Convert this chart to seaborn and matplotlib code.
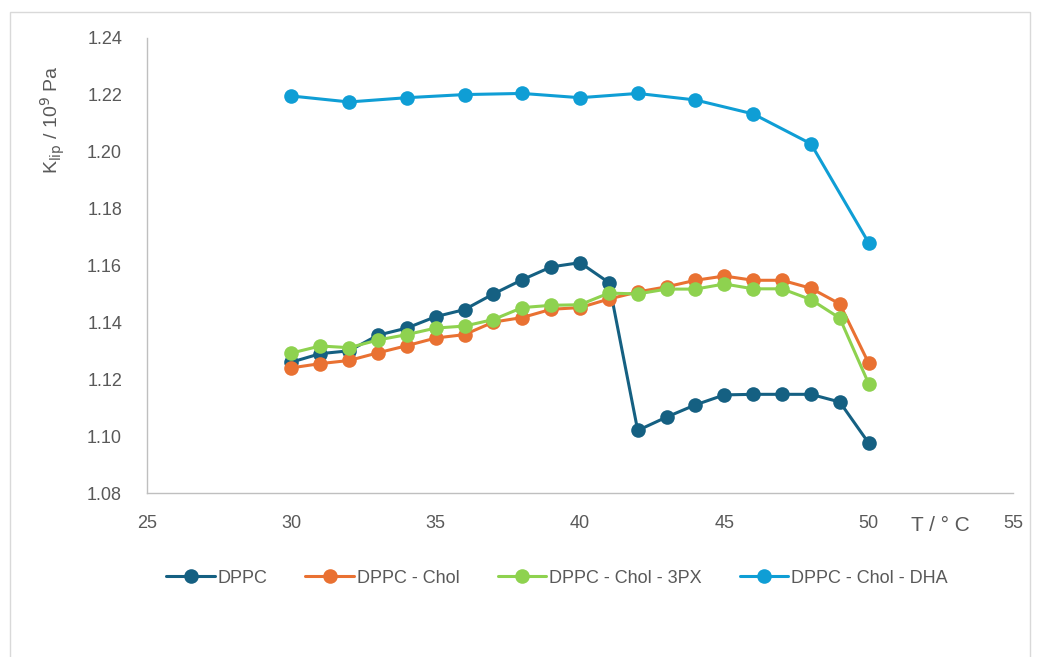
import numpy as np
import pandas as pd
import seaborn as sns
import matplotlib.pyplot as plt
from matplotlib.patches import Rectangle

# temperatures (°C)
t_full = list(range(30, 51))
t_dha = [30, 32, 34, 36, 38, 40, 42, 44, 46, 48, 50]

# K_lip / 10^9 Pa
k_dppc = [1.126, 1.129, 1.130, 1.1355, 1.138, 1.142, 1.1445, 1.150, 1.155, 1.1595, 1.161, 1.154,
          1.102, 1.1067, 1.111, 1.1145, 1.1147, 1.1147, 1.1147, 1.112, 1.0976]
k_chol = [1.124, 1.1255, 1.1266, 1.1293, 1.1318, 1.1345, 1.1357, 1.1401, 1.1417, 1.1446, 1.1452, 1.1482,
          1.1507, 1.1525, 1.1548, 1.1563, 1.1548, 1.1548, 1.152, 1.1465, 1.1257]
k_3px = [1.1292, 1.1317, 1.1311, 1.1338, 1.1357, 1.138, 1.1387, 1.141, 1.1452, 1.146, 1.1462, 1.1503,
         1.150, 1.1517, 1.1517, 1.1535, 1.1518, 1.1518, 1.148, 1.1415, 1.1185]
k_dha = [1.2196, 1.2175, 1.219, 1.2201, 1.2205, 1.219, 1.2205, 1.2182, 1.2133, 1.2028, 1.168]

names = ['DPPC', 'DPPC - Chol', 'DPPC - Chol - 3PX', 'DPPC - Chol - DHA']
colors = ['#156082', '#E97132', '#8ED24F', '#0F9ED5']

df = pd.concat([
    pd.DataFrame({'T': t_full, 'K': k_dppc, 'sample': names[0]}),
    pd.DataFrame({'T': t_full, 'K': k_chol, 'sample': names[1]}),
    pd.DataFrame({'T': t_full, 'K': k_3px, 'sample': names[2]}),
    pd.DataFrame({'T': t_dha, 'K': k_dha, 'sample': names[3]}),
], ignore_index=True)

sns.set_theme(style='white')
plt.rcParams['font.family'] = ['Liberation Sans', 'DejaVu Sans']

fig = plt.figure(figsize=(10.37, 6.57), dpi=100)
ax = fig.add_axes([0.1418, 0.2496, 0.835, 0.6926])

sns.lineplot(data=df, x='T', y='K', hue='sample', hue_order=names, palette=colors,
             marker='o', markersize=10.5, markeredgewidth=0, linewidth=2.2,
             sort=True, ax=ax, legend=True)

ax.set_xlim(25, 55)
ax.set_ylim(1.08, 1.24)
ax.set_xticks(np.arange(25, 56, 5))
ax.set_yticks(np.arange(1.08, 1.241, 0.02))
ax.set_yticklabels([f'{v:.2f}' for v in np.arange(1.08, 1.241, 0.02)])
ax.tick_params(axis='both', length=0, labelsize=13, labelcolor='#595959')
ax.tick_params(axis='x', pad=16)
ax.tick_params(axis='y', pad=18)

for s in ['top', 'right']:
    ax.spines[s].set_visible(False)
for s in ['left', 'bottom']:
    ax.spines[s].set_color('#BFBFBF')
    ax.spines[s].set_linewidth(1.0)

ax.set_xlabel('')
ax.set_ylabel(r'K$_{\rm lip}$ / 10$^{9}$ Pa', fontsize=14, color='#595959')
ax.yaxis.set_label_coords(-0.093, 0.82)
fig.text(0.907, 0.2, 'T / ° C', fontsize=15, color='#595959', ha='center', va='center')

handles, labels = ax.get_legend_handles_labels()
ax.legend(handles, labels, loc='center', bbox_to_anchor=(0.537, 0.12), bbox_transform=fig.transFigure,
          ncol=4, frameon=False, fontsize=13, labelcolor='#595959', handlelength=2.7,
          handletextpad=0.15, columnspacing=2.1)

fig.patches.append(Rectangle((10 / 1037, -0.05), 1020 / 1037, 1.0317, transform=fig.transFigure,
                             fill=False, edgecolor='#D9D9D9', linewidth=1.0))

fig.savefig('out.png', dpi=100)
